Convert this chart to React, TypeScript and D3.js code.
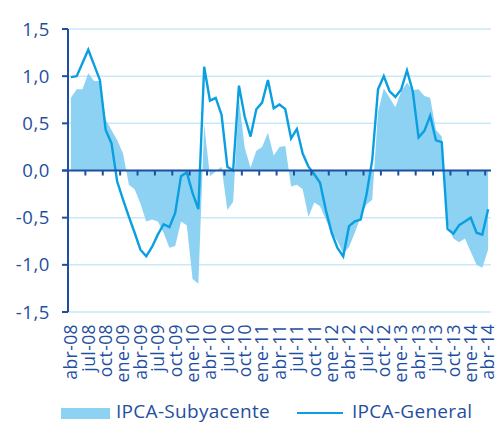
import * as d3 from "d3";

// monthly categories abr-08 .. abr-14
const monthNames = ["ene", "feb", "mar", "abr", "may", "jun", "jul", "ago", "sep", "oct", "nov", "dic"];
const months: string[] = [];
for (let i = 0; i < 73; i++) {
  const m = (3 + i) % 12;
  const y = 8 + Math.floor((3 + i) / 12);
  months.push(`${monthNames[m]}-${String(y).padStart(2, "0")}`);
}

const subyacente = [
  0.77, 0.86, 0.86, 1.03, 0.95, 0.95, 0.54, 0.43, 0.32, 0.18, -0.15, -0.2,
  -0.35, -0.54, -0.52, -0.54, -0.66, -0.82, -0.8, -0.54, -0.58, -1.15, -1.2, 0.49,
  -0.06, -0.01, 0.04, -0.42, -0.33, 0.75, 0.24, 0.03, 0.21, 0.25, 0.4, 0.16,
  0.25, 0.26, -0.17, -0.15, -0.2, -0.49, -0.34, -0.38, -0.52, -0.66, -0.75, -0.88,
  -0.81, -0.66, -0.49, -0.36, -0.31, 0.62, 0.87, 0.77, 0.67, 0.84, 0.93, 0.85,
  0.86, 0.79, 0.77, 0.43, 0.36, -0.56, -0.72, -0.76, -0.72, -0.86, -1.0, -1.03,
  -0.84,
];

const general = [
  0.99, 1.0, 1.14, 1.28, 1.12, 0.96, 0.43, 0.29, -0.12, -0.31, -0.49, -0.66,
  -0.84, -0.91, -0.81, -0.68, -0.57, -0.6, -0.45, -0.06, -0.02, -0.24, -0.41, 1.1,
  0.74, 0.77, 0.59, 0.04, 0.0, 0.9, 0.57, 0.36, 0.65, 0.72, 0.96, 0.66,
  0.7, 0.65, 0.34, 0.44, 0.18, 0.04, -0.04, -0.13, -0.42, -0.66, -0.82, -0.91,
  -0.59, -0.54, -0.52, -0.26, 0.11, 0.86, 1.0, 0.84, 0.78, 0.86, 1.06, 0.84,
  0.35, 0.42, 0.58, 0.32, 0.3, -0.62, -0.67, -0.58, -0.54, -0.5, -0.66, -0.68,
  -0.41,
];

const yTicks = [1.5, 1.0, 0.5, 0, -0.5, -1.0, -1.5];
const legendLabels = ["IPCA-Subyacente", "IPCA-General"];

const W = 502;
const H = 425;
const left = 68;
const right = 491;
const top = 29;
const bottom = 312;

const dark = "#1f4f9f";
const lineColor = "#0a9fe0";
const areaColor = "#8dd2f2";
const gridColor = "#c9e9f8";
const font = "'Open Sans', sans-serif";

export default function App() {
  const x = d3.scaleBand<string>().domain(months).range([left, right]).padding(0);
  const cx = (i: number) => (x(months[i]) as number) + x.bandwidth() / 2;
  const y = d3.scaleLinear().domain([-1.5, 1.5]).range([bottom, top]);

  const area = d3
    .area<number>()
    .x((_, i) => cx(i))
    .y0(y(0))
    .y1((d) => y(d));
  const line = d3
    .line<number>()
    .x((_, i) => cx(i))
    .y((d) => y(d));

  const fmt = (v: number) => v.toFixed(1).replace(".", ",");
  const labelIdx = months.map((_, i) => i).filter((i) => i % 3 === 0);

  return (
    <svg width={W} height={H} style={{ position: "absolute", left: 0, top: 0 }}>
      {yTicks.map((t) => (
        <line key={t} x1={left} x2={right} y1={y(t)} y2={y(t)} stroke={gridColor} strokeWidth={1.5} />
      ))}
      <path d={area(subyacente) ?? ""} fill={areaColor} />
      <path d={line(general) ?? ""} fill="none" stroke={lineColor} strokeWidth={2.4} />
      {/* y axis */}
      <line x1={left} x2={left} y1={top} y2={bottom} stroke={dark} strokeWidth={2} />
      {yTicks.map((t) => (
        <g key={t}>
          <line x1={left - 6} x2={left} y1={y(t)} y2={y(t)} stroke={dark} strokeWidth={2} />
          <text
            x={50}
            y={y(t)}
            dy="0.36em"
            textAnchor="end"
            fontFamily={font}
            fontSize={18.5}
            letterSpacing={0.6}
            fill={dark}
          >
            {fmt(t)}
          </text>
        </g>
      ))}
      {/* x axis at zero */}
      <line x1={left - 6} x2={right} y1={y(0)} y2={y(0)} stroke={dark} strokeWidth={2} />
      {labelIdx.slice(1).map((i) => (
        <line
          key={i}
          x1={x(months[i]) as number}
          x2={x(months[i]) as number}
          y1={y(0)}
          y2={y(0) + 5}
          stroke={dark}
          strokeWidth={2}
        />
      ))}
      {labelIdx.map((i) => (
        <text
          key={i}
          transform={`translate(${cx(i)},${bottom + 12}) rotate(-90)`}
          dy="0.36em"
          textAnchor="end"
          fontFamily={font}
          fontSize={17.5}
          letterSpacing={0.4}
          fill={dark}
        >
          {months[i]}
        </text>
      ))}
      {/* legend */}
      <rect x={61} y={408} width={49} height={11} fill={areaColor} />
      <text x={116} y={418} fontFamily={font} fontSize={19} letterSpacing={0.3} fill={dark}>
        {legendLabels[0]}
      </text>
      <line x1={297} x2={343} y1={413} y2={413} stroke={lineColor} strokeWidth={2} />
      <text x={352} y={418} fontFamily={font} fontSize={19} letterSpacing={0.3} fill={dark}>
        {legendLabels[1]}
      </text>
    </svg>
  );
}
